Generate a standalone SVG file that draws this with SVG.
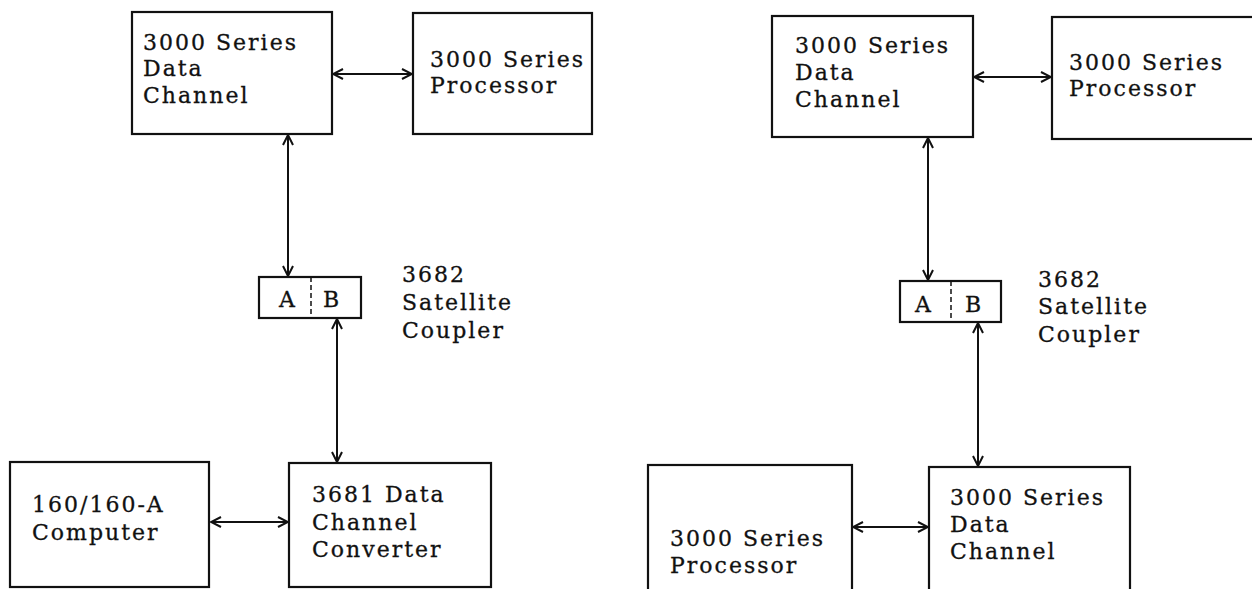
<svg xmlns="http://www.w3.org/2000/svg" width="1252" height="589" viewBox="0 0 1252 589">
<style>
.box{fill:none;stroke:#111;stroke-width:2.2}
.t{font-family:"DejaVu Serif","Liberation Serif",serif;font-size:22px;letter-spacing:2px;fill:#111;stroke:#111;stroke-width:0.3}
.c{font-family:"DejaVu Serif","Liberation Serif",serif;font-size:22px;fill:#111;text-anchor:middle;stroke:#111;stroke-width:0.3}
.ln{fill:none;stroke:#111;stroke-width:2;marker-start:url(#ah);marker-end:url(#ah)}
.div{stroke:#111;stroke-width:1.5;stroke-dasharray:5,3}
</style>
<defs>
<marker id="ah" viewBox="0 0 12 12" refX="11" refY="6" markerWidth="12" markerHeight="12" markerUnits="userSpaceOnUse" orient="auto-start-reverse">
<path d="M1,1 L11,6 L1,11" fill="none" stroke="#111" stroke-width="2"/>
</marker>
</defs>
<rect width="1252" height="589" fill="#fff"/>
<g id="connectors">
<line class="ln" x1="333" y1="74" x2="412" y2="74"/>
<line class="ln" x1="288" y1="135" x2="288" y2="276"/>
<line class="ln" x1="337" y1="319" x2="337" y2="462"/>
<line class="ln" x1="211" y1="522" x2="288" y2="522"/>
<line class="ln" x1="974" y1="77" x2="1051" y2="77"/>
<line class="ln" x1="928" y1="138" x2="928" y2="280"/>
<line class="ln" x1="978" y1="323" x2="978" y2="466"/>
<line class="ln" x1="853" y1="527" x2="928" y2="527"/>
</g>
<g id="left-dc">
<rect class="box" x="132" y="12" width="200" height="122"/>
<text class="t" x="143" y="50">3000 Series</text>
<text class="t" x="143" y="76">Data</text>
<text class="t" x="143" y="103">Channel</text>
</g>
<g id="left-proc">
<rect class="box" x="413" y="13" width="179" height="121"/>
<text class="t" x="430" y="67">3000 Series</text>
<text class="t" x="430" y="93">Processor</text>
</g>
<g id="left-coupler">
<rect class="box" x="259" y="277" width="102" height="41"/>
<line class="div" x1="311" y1="277" x2="311" y2="318"/>
<text class="c" x="287" y="307">A</text>
<text class="c" x="331" y="307">B</text>
<text class="t" x="402" y="282">3682</text>
<text class="t" x="402" y="310">Satellite</text>
<text class="t" x="402" y="338">Coupler</text>
</g>
<g id="left-160">
<rect class="box" x="10" y="462" width="199" height="125"/>
<text class="t" x="32" y="512">160/160-A</text>
<text class="t" x="32" y="540">Computer</text>
</g>
<g id="left-3681">
<rect class="box" x="289" y="463" width="202" height="124"/>
<text class="t" x="312" y="502">3681 Data</text>
<text class="t" x="312" y="530">Channel</text>
<text class="t" x="312" y="557">Converter</text>
</g>
<g id="right-dc">
<rect class="box" x="772" y="16" width="201" height="121"/>
<text class="t" x="795" y="53">3000 Series</text>
<text class="t" x="795" y="80">Data</text>
<text class="t" x="795" y="107">Channel</text>
</g>
<g id="right-proc">
<rect class="box" x="1052" y="17" width="210" height="122"/>
<text class="t" x="1069" y="70">3000 Series</text>
<text class="t" x="1069" y="96">Processor</text>
</g>
<g id="right-coupler">
<rect class="box" x="900" y="281" width="101" height="41"/>
<line class="div" x1="951" y1="281" x2="951" y2="322"/>
<text class="c" x="923" y="312">A</text>
<text class="c" x="973" y="312">B</text>
<text class="t" x="1038" y="287">3682</text>
<text class="t" x="1038" y="314">Satellite</text>
<text class="t" x="1038" y="342">Coupler</text>
</g>
<g id="right-proc-bottom">
<rect class="box" x="648" y="465" width="204" height="130"/>
<text class="t" x="670" y="546">3000 Series</text>
<text class="t" x="670" y="573">Processor</text>
</g>
<g id="right-dc-bottom">
<rect class="box" x="929" y="467" width="201" height="128"/>
<text class="t" x="950" y="505">3000 Series</text>
<text class="t" x="950" y="532">Data</text>
<text class="t" x="950" y="559">Channel</text>
</g>
</svg>
